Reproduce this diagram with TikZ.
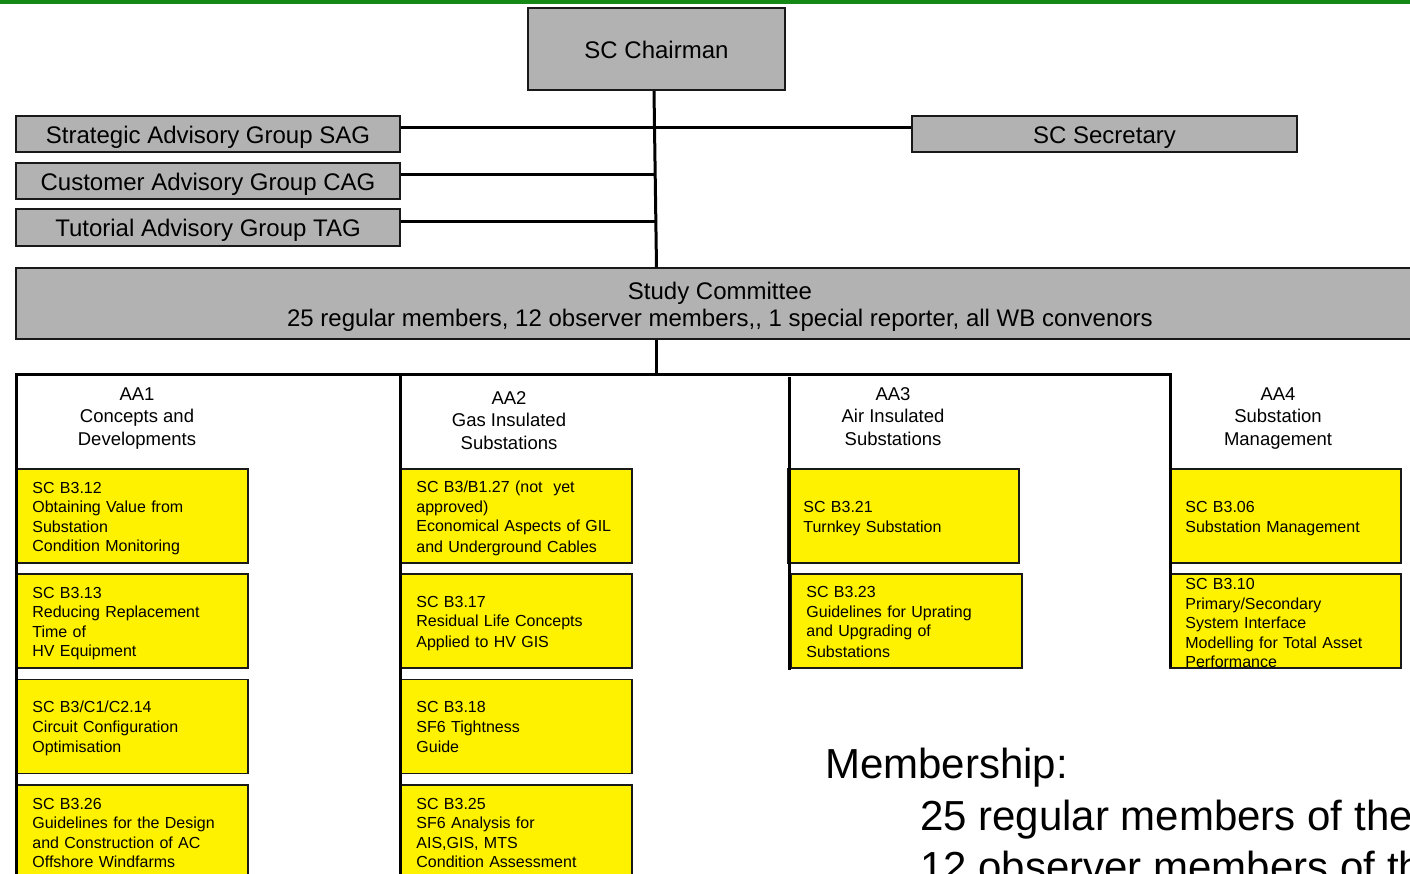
\documentclass[tikz,border=0pt]{standalone}
\usepackage{fontspec}
\setmainfont{Liberation Sans}
\usetikzlibrary{calc}
\definecolor{boxgray}{RGB}{178,178,178}
\definecolor{topgreen}{RGB}{20,136,20}
\definecolor{edgecol}{RGB}{25,25,25}
\newcommand{\ystrut}{\rule[-3.25pt]{0pt}{19.5pt}}
\newcommand{\hstrut}{\rule[-6pt]{0pt}{23pt}}
\begin{document}
\begin{tikzpicture}[x=1pt,y=-1pt,
  gboxbase/.style={draw=edgecol, line width=1.8pt, fill=boxgray, inner sep=0pt},
  gbox/.style={gboxbase, font=\fontsize{24}{28}\selectfont, text height=19pt, text depth=0pt},
  ybase/.style={draw=edgecol, line width=1.8pt, fill=yellow, anchor=north west,
    inner xsep=15.5pt, inner ysep=0pt, text width=200pt, minimum height=94pt,
    align=left, font=\fontsize{16}{19.5}\selectfont},
  ybox/.style={ybase, execute at begin node=\ystrut, execute at end node=\ystrut},
  head/.style={anchor=north, inner sep=0pt, align=center, font=\fontsize{18.5}{22.7}\selectfont},
  mem/.style={anchor=base west, inner sep=0pt, font=\fontsize{42}{50}\selectfont},
  conn/.style={line width=3pt, black}
]
\useasboundingbox (0,0) rectangle (1410,874);
\clip (0,0) rectangle (1410,874);
\fill[white] (0,0) rectangle (1410,874);
\fill[topgreen] (0,0) rectangle (1410,4);

% grey boxes
\node[gbox, minimum width=257.6pt, minimum height=82pt] (chair) at (656.5,49.3) {SC Chairman};
\node[gbox, minimum width=384pt, minimum height=36pt] (sag) at (208,134) {Strategic Advisory Group SAG};
\node[gbox, minimum width=384pt, minimum height=36.3pt] (cag) at (208,181) {Customer Advisory Group CAG};
\node[gbox, minimum width=384pt, minimum height=36.4pt] (tag) at (208,227.5) {Tutorial Advisory Group TAG};
\node[gbox, minimum width=385pt, minimum height=36pt] (sec) at (1104.5,134) {SC Secretary};
\node[gboxbase, minimum width=1408pt, minimum height=70.7pt, align=center, font=\fontsize{24}{27.3}\selectfont] (sc) at (720,303.7)
  {\rule{0pt}{23pt}Study Committee\\25 regular members, 12 observer members,{},{} 1 special reporter, all WB convenors};

% working group boxes
\node[ybox] (a11) at (16,468) {SC B3.12\\Obtaining Value from\\Substation\\Condition Monitoring};
\node[ybox] (a12) at (16,573) {SC B3.13\\Reducing Replacement\\Time of\\HV Equipment};
\node[ybox] (a13) at (16,678.5) {SC B3/C1/C2.14\\Circuit Configuration\\Optimisation};
\node[ybox] (a14) at (16,784.3) {SC B3.26\\Guidelines for the Design\\and Construction of AC\\Offshore Windfarms};

\node[ybox] (a21) at (400,468) {SC B3/B1.27 (not\ \ yet\\approved)\\Economical Aspects of GIL\\and Underground Cables};
\node[ybox] (a22) at (400,573) {SC B3.17\\Residual Life Concepts\\Applied to HV GIS};
\node[ybox] (a23) at (400,678.5) {SC B3.18\\SF6 Tightness\\Guide};
\node[ybox] (a24) at (400,784.3) {SC B3.25\\SF6 Analysis for\\AIS,GIS, MTS\\Condition Assessment};

\node[ybox] (a31) at (787,468) {SC B3.21\\Turnkey Substation};
\node[ybox] (a32) at (790,573) {SC B3.23\\Guidelines for Uprating\\and Upgrading of\\Substations};

\node[ybox] (a41) at (1169,468) {SC B3.06\\Substation Management};
\node[ybase, execute at begin node={\rule{0pt}{15.6pt}}] (a42) at (1169,573) {SC B3.10\\Primary/Secondary\\System Interface\\Modelling for Total Asset\\Performance};

% headers
\node[head] (h1) at (137,383) {\hstrut AA1\\Concepts and\\Developments};
\node[head] (h2) at (509,387) {\hstrut AA2\\Gas Insulated\\Substations};
\node[head] (h3) at (893,383) {\hstrut AA3\\Air Insulated\\Substations};
\node[head] (h4) at (1278,383) {\hstrut AA4\\Substation\\Management};

% membership
\node[mem] (m0) at (825,778.3) {Membership:};
\node[mem] (m1) at (920,830) {25 regular members of the};
\node[mem] (m2) at (920,881.7) {12 observer members of th};

% connectors
\coordinate (busL) at (16,374);
\coordinate (busR) at (1170,374);
\coordinate (v1b) at (16,880);
\coordinate (v2t) at (400,374);
\coordinate (v2b) at (400,880);
\coordinate (v3t) at (789,377);
\coordinate (v3b) at (789,670);
\coordinate (v4b) at (1170,667);

\draw[conn] ([xshift=-2.5pt]chair.south) -- (chair.south |- sc.north);
\draw[conn] ([yshift=6pt]sag.east) -- ([yshift=6pt]sag.east -| sec.west);
\draw[conn] ([yshift=6pt]cag.east) -- ([yshift=6pt,xshift=-1.5pt]cag.east -| chair.south);
\draw[conn] ([yshift=6pt]tag.east) -- ([yshift=6pt,xshift=-1pt]tag.east -| chair.south);
\draw[conn] (chair.south |- sc.south) -- (chair.south |- busL);
\draw[conn] (v1b) -- (busL) -- (busR) -- (v4b);
\draw[conn] (v2t) -- (v2b);
\draw[conn] (v3t) -- (v3b);
\end{tikzpicture}
\end{document}
